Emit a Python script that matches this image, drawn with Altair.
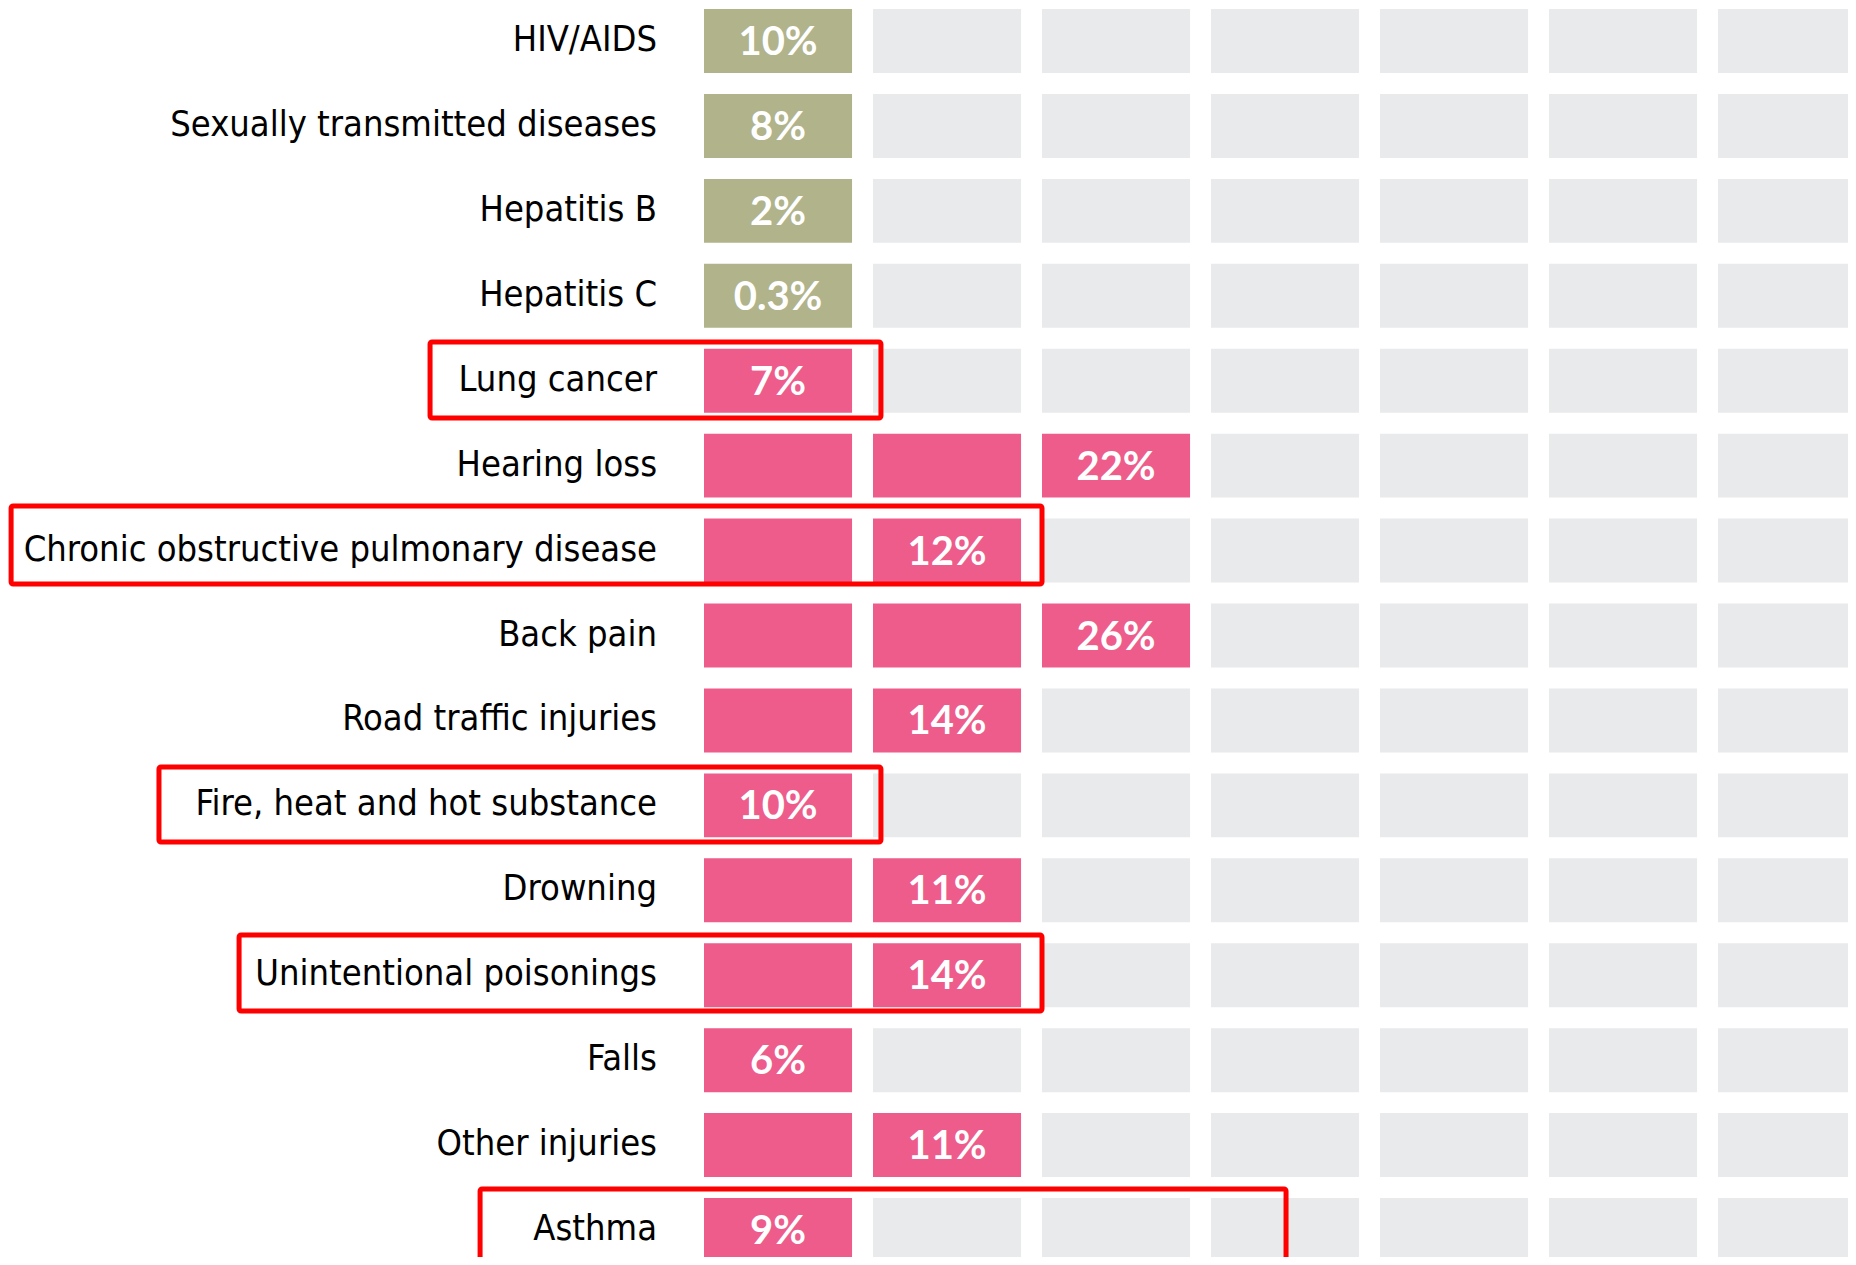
import altair as alt
import pandas as pd

# ---- data ----
categories = [
    "HIV/AIDS", "Sexually transmitted diseases", "Hepatitis B", "Hepatitis C",
    "Lung cancer", "Hearing loss", "Chronic obstructive pulmonary disease",
    "Back pain", "Road traffic injuries", "Fire, heat and hot substance",
    "Drowning", "Unintentional poisonings", "Falls", "Other injuries", "Asthma",
]
value_labels = ["10%", "8%", "2%", "0.3%", "7%", "22%", "12%", "26%", "14%",
                "10%", "11%", "14%", "6%", "11%", "9%"]
filled_cells = [1, 1, 1, 1, 1, 3, 2, 3, 2, 1, 2, 2, 1, 2, 1]
groups = ["infectious"] * 4 + ["other"] * 11
n_cols = 7

# highlighted rows (red annotation boxes), in column / row units
box_rows = ["Lung cancer", "Chronic obstructive pulmonary disease",
            "Fire, heat and hot substance", "Unintentional poisonings", "Asthma"]
box_left = [-1.621, -4.10, -3.225, -2.751, -1.325]
box_right = [1.047, 2.0, 1.047, 2.0, 3.444]
box_top = [-0.067, -0.136, -0.063, -0.085, -0.094]
box_bottom = [0.828, 0.782, 0.820, 0.810, 0.95]

group_colors = {"infectious": "#b1b38b", "other": "#ed5c8b"}
empty_color = "#e9eaec"

CELL_W = 0.876
ROW_OFF = 0.012
CELL_H = 0.753

# ---- tables ----
cells = []
for i, (cat, n, g) in enumerate(zip(categories, filled_cells, groups)):
    for c in range(n_cols):
        cells.append({
            "cat": cat, "x0": c, "x1": c + CELL_W,
            "y0": i + ROW_OFF, "y1": i + ROW_OFF + CELL_H,
            "fill": group_colors[g] if c < n else empty_color,
        })
cells = pd.DataFrame(cells)

rows = pd.DataFrame({
    "cat": categories,
    "label": value_labels,
    "xc": [n - 1 + CELL_W / 2 for n in filled_cells],
    "yc": [i + ROW_OFF + CELL_H / 2 for i in range(len(categories))],
})

boxes = pd.DataFrame({
    "cat": box_rows,
    "bx0": box_left,
    "bx1": box_right,
    "by0": [categories.index(r) + t for r, t in zip(box_rows, box_top)],
    "by1": [categories.index(r) + b for r, b in zip(box_rows, box_bottom)],
})

W, H = 1144, 1249
x_scale = alt.Scale(domain=[0, W / 169.0], nice=False, zero=False)
y_scale = alt.Scale(domain=[0, H / 84.93], nice=False, zero=False, reverse=True)

cell_layer = alt.Chart(cells).mark_rect(clip=True).encode(
    x=alt.X("x0:Q", scale=x_scale, axis=None),
    x2="x1:Q",
    y=alt.Y("y0:Q", scale=y_scale, axis=None),
    y2="y1:Q",
    color=alt.Color("fill:N", scale=None),
)

pct_layer = alt.Chart(rows).mark_text(
    color="white", font="Lato", fontSize=40, fontWeight="bold",
    align="center", baseline="middle", dy=2,
).encode(
    x=alt.X("xc:Q", scale=x_scale, axis=None),
    y=alt.Y("yc:Q", scale=y_scale, axis=None),
    text="label:N",
)

cat_layer = alt.Chart(rows).mark_text(
    color="black", font="'Liberation Sans Narrow', 'DejaVu Sans Condensed', sans-serif",
    fontSize=36, align="right", baseline="middle", dy=-1,
).encode(
    x=alt.value(-47),
    y=alt.Y("yc:Q", scale=y_scale, axis=None),
    text="cat:N",
)

box_layer = alt.Chart(boxes).mark_rect(
    fillOpacity=0, stroke="#ff0000", strokeWidth=5, cornerRadius=2,
).encode(
    x=alt.X("bx0:Q", scale=x_scale, axis=None),
    x2="bx1:Q",
    y=alt.Y("by0:Q", scale=y_scale, axis=None),
    y2="by1:Q",
)

chart = alt.layer(cell_layer, pct_layer, cat_layer, box_layer).properties(
    width=W, height=H,
    autosize=alt.AutoSizeParams(type="none"),
    padding={"left": 696, "top": 0, "right": 0, "bottom": 0},
    background="white",
).configure_view(stroke=None)

chart.save("out.html", embed_options={"renderer": "svg", "actions": False})
